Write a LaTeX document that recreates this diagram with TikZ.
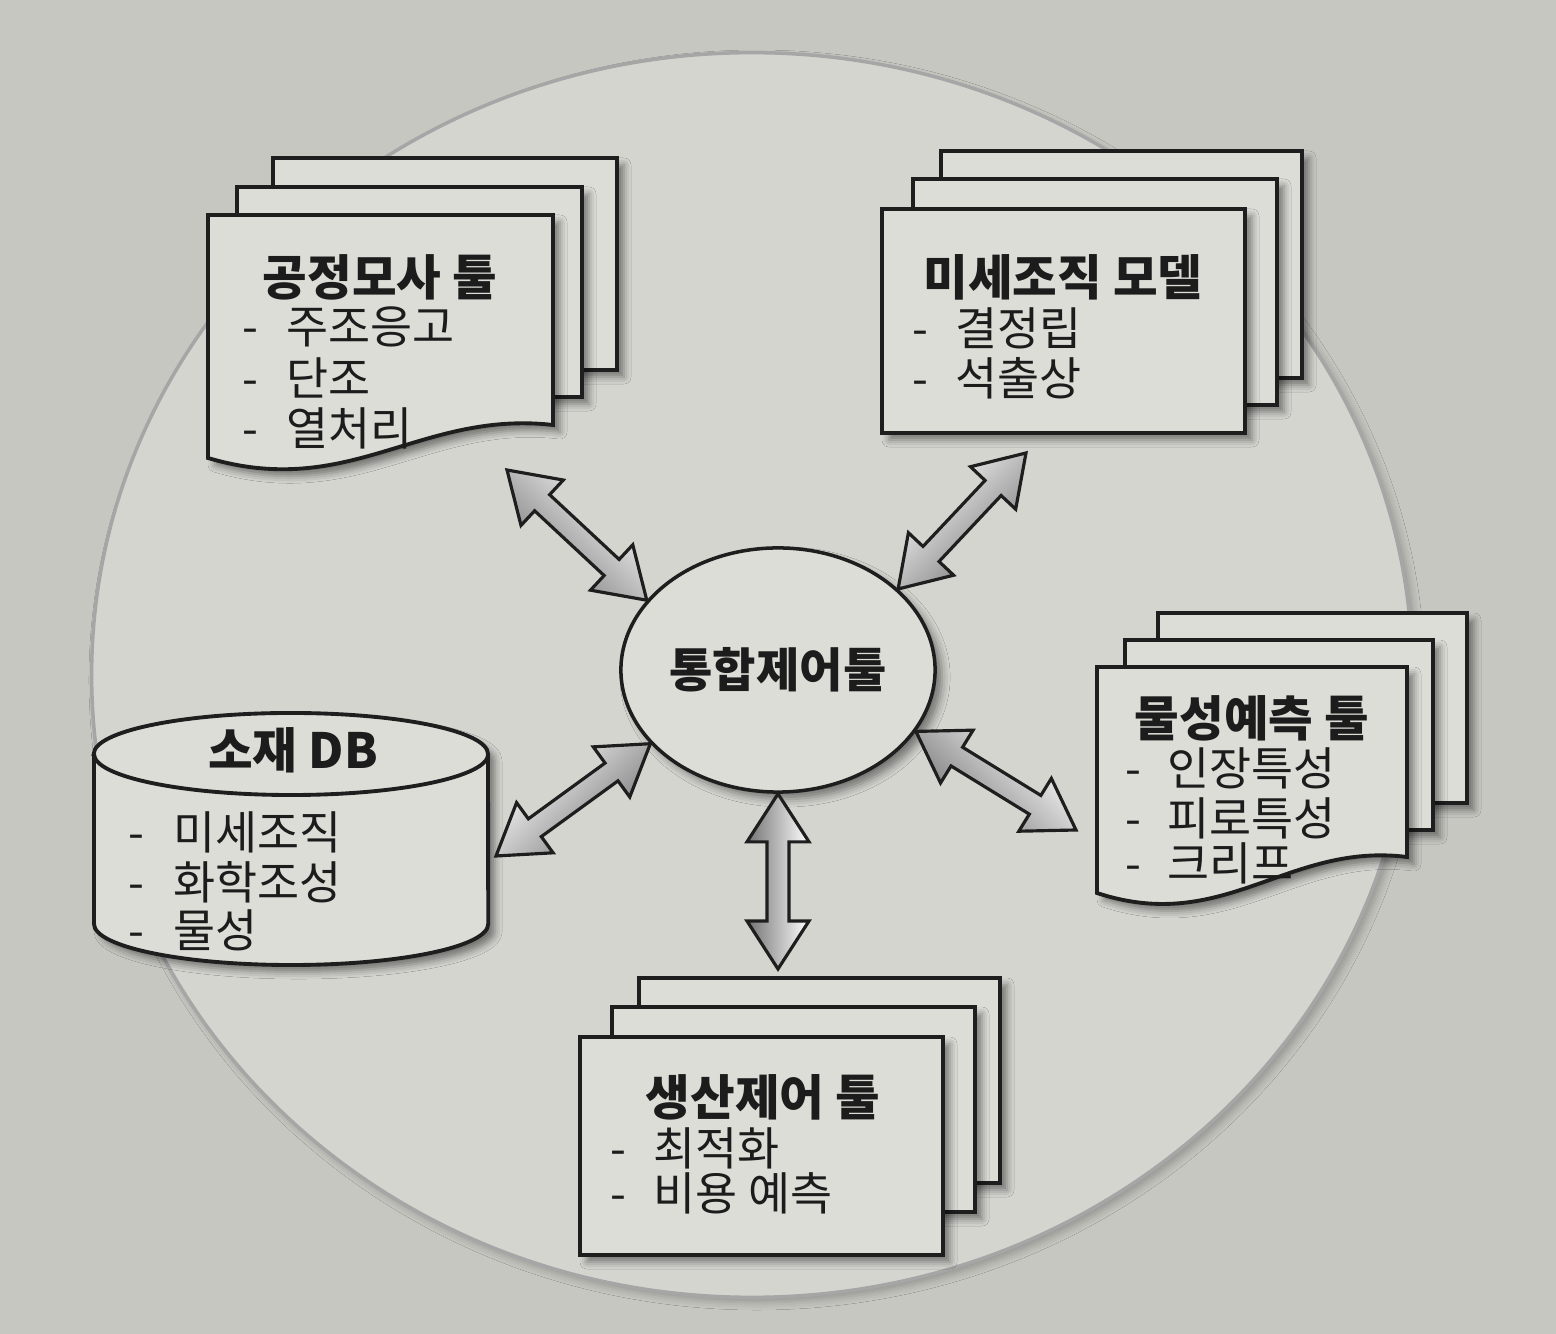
\documentclass[tikz,border=0pt]{standalone}
\usepackage{fontspec}
\setmainfont{Noto Sans CJK KR}
\usetikzlibrary{calc,shapes.geometric,shadows.blur}

\tikzset{
  sheet/.style={draw=lineColor, line width=1.1pt, fill=paperColor,
    blur shadow={shadow xshift=0.07cm, shadow yshift=-0.07cm,
      shadow blur radius=0.07cm, shadow opacity=45}},
  hub/.style={ellipse, draw=lineColor, line width=1pt, fill=paperColor,
    minimum width=3.14cm, minimum height=2.44cm, inner sep=0pt,
    text=textColor, font=\bfseries\fontsize{13.4}{15}\selectfont,
    blur shadow={shadow xshift=0.07cm, shadow yshift=-0.07cm,
      shadow blur radius=0.08cm, shadow opacity=45}},
  docTitle/.style={inner sep=0pt, text=textColor,
    font=\bfseries\fontsize{13.8}{16}\selectfont},
  docItem/.style={anchor=west, inner sep=0pt, text=textColor,
    font=\fontsize{13}{15}\selectfont},
  linkarrow/.style={draw=lineColor, line width=0.9pt, line join=miter,
    top color=white, bottom color=black!55}
}

% sheets: left, top, right, bottom (wavy: bottom right, bottom left)
\newcommand{\flatsheet}[4]{\draw[sheet] (#1,#2) rectangle (#3,#4);}
\newcommand{\wavysheet}[5]{\draw[sheet] (#1,#2) -- (#3,#2) -- (#3,#4)
  .. controls ({#3-0.385*(#3-#1)},{#4-15}) and ({#3-0.59*(#3-#1)},{#5+42}) .. (#1,#5)
  -- cycle;}
% block arrow with two heads, tip to tip
\newcommand{\linkarrow}[3][0]{%
  \path ($(#2)!0.48cm!(#3)$) coordinate (lkA)
        ($(#3)!0.48cm!(#2)$) coordinate (lkB);
  \draw[linkarrow, shading angle=#1] (#2)
    -- ($(lkA)!0.31cm!90:(#3)$) -- ($(lkA)!0.11cm!90:(#3)$)
    -- ($(lkB)!0.11cm!-90:(#2)$) -- ($(lkB)!0.31cm!-90:(#2)$)
    -- (#3)
    -- ($(lkB)!0.31cm!90:(#2)$) -- ($(lkB)!0.11cm!90:(#2)$)
    -- ($(lkA)!0.11cm!-90:(#3)$) -- ($(lkA)!0.31cm!-90:(#3)$)
    -- cycle;}

\begin{document}
\begin{tikzpicture}[x=0.01cm, y=-0.01cm]
% Colors
\definecolor{pageColor}{RGB}{199,199,194}
\definecolor{discColor}{RGB}{213,213,208}
\definecolor{paperColor}{RGB}{221,221,216}
\definecolor{lineColor}{RGB}{30,30,30}
\definecolor{textColor}{RGB}{28,28,28}
\useasboundingbox (0,0) rectangle (1556,1334);
\fill[pageColor] (0,0) rectangle (1556,1334);
% Big disc
\draw[fill=discColor, draw=black!35, line width=1pt,
  blur shadow={shadow xshift=0.05cm, shadow yshift=-0.05cm, shadow opacity=25}]
  (752,675) ellipse [x radius=6.6cm, y radius=6.22cm];

% Process simulation tool (top left)
\begin{scope}
	\flatsheet{273}{158}{617}{370}
	\flatsheet{237}{187}{582}{397}
	\wavysheet{208}{215}{553}{425}{458}
	\node[docTitle] (sim) at (380,277) {공정모사 툴};
	\node[docItem] (sim-a) at (242,327) {\makebox[0.44cm][l]{-}주조응고};
	\node[docItem] (sim-b) at (242,378) {\makebox[0.44cm][l]{-}단조};
	\node[docItem] (sim-c) at (242,428) {\makebox[0.44cm][l]{-}열처리};
\end{scope}

% Microstructure model (top right)
\begin{scope}
	\flatsheet{941}{151}{1302}{378}
	\flatsheet{913}{179}{1277}{405}
	\flatsheet{882}{209}{1245}{433}
	\node[docTitle] (micro) at (1063,277) {미세조직 모델};
	\node[docItem] (micro-a) at (912,328) {\makebox[0.43cm][l]{-}결정립};
	\node[docItem] (micro-b) at (912,378) {\makebox[0.43cm][l]{-}석출상};
\end{scope}

% Material DB (left)
\begin{scope}
	\draw[sheet] (94,754) -- (94,924)
	  arc[start angle=180, end angle=360, x radius=1.97cm, y radius=0.41cm]
	  -- (488,754)
	  arc[start angle=0, end angle=180, x radius=1.97cm, y radius=0.41cm]
	  -- cycle;
	\draw[draw=lineColor, line width=1.1pt] (94,754)
	  arc[start angle=180, end angle=360, x radius=1.97cm, y radius=0.41cm];
	\node[docTitle] (db) at (293,750) {소재 DB};
	\node[docItem] (db-a) at (128,832) {\makebox[0.45cm][l]{-}미세조직};
	\node[docItem] (db-b) at (128,882) {\makebox[0.45cm][l]{-}화학조성};
	\node[docItem] (db-c) at (128,930) {\makebox[0.45cm][l]{-}물성};
\end{scope}

% Property prediction tool (right)
\begin{scope}
	\flatsheet{1158}{613}{1467}{803}
	\flatsheet{1125}{640}{1433}{830}
	\wavysheet{1097}{667}{1407}{857}{893}
	\node[docTitle] (prop) at (1252,718) {물성예측 툴};
	\node[docItem] (prop-a) at (1125,768) {\makebox[0.42cm][l]{-}인장특성};
	\node[docItem] (prop-b) at (1125,818) {\makebox[0.42cm][l]{-}피로특성};
	\node[docItem] (prop-c) at (1125,863) {\makebox[0.42cm][l]{-}크리프};
\end{scope}

% Production control tool (bottom)
\begin{scope}
	\flatsheet{639}{978}{1000}{1183}
	\flatsheet{612}{1007}{975}{1212}
	\flatsheet{580}{1037}{943}{1255}
	\node[docTitle] (prod) at (763,1097) {생산제어 툴};
	\node[docItem] (prod-a) at (610,1148) {\makebox[0.43cm][l]{-}최적화};
	\node[docItem] (prod-b) at (610,1193) {\makebox[0.43cm][l]{-}비용 예측};
\end{scope}

% Integration hub
\node[hub] (hub) at (778,670) {통합제어툴};

% Arrow ends near the tools
\coordinate (simTip)  at (507,470);
\coordinate (microTip) at (1026,453);
\coordinate (dbTip)   at (496,856);
\coordinate (propTip) at (1076,830);
\coordinate (prodTip) at (778,969);

% Links
\linkarrow[-45]{simTip}{hub.152}
\linkarrow[45]{microTip}{hub.34}
\linkarrow[45]{dbTip}{hub.210}
\linkarrow[-45]{propTip}{hub.-24}
\linkarrow[-90]{prodTip}{hub.-90}
\end{tikzpicture}
\end{document}
